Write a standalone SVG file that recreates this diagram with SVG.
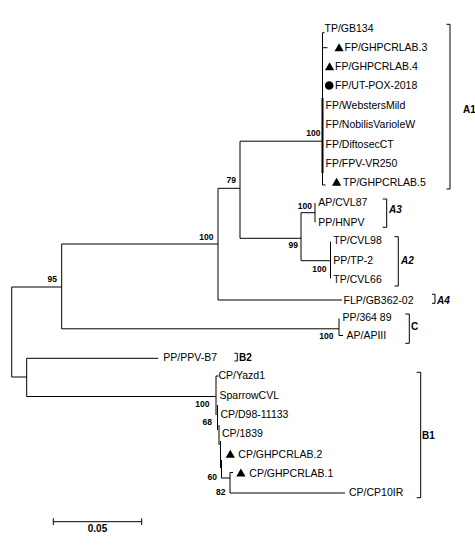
<svg xmlns="http://www.w3.org/2000/svg" width="475" height="546" viewBox="0 0 475 546">
<style>
.t{font-family:"Liberation Sans",Arial,sans-serif;font-size:10.5px;fill:#000}
.b{font-family:"Liberation Sans",Arial,sans-serif;font-size:8.5px;font-weight:bold;fill:#000;text-anchor:end}
.c{font-family:"Liberation Sans",Arial,sans-serif;font-size:10px;font-weight:bold;fill:#000}
.ci{font-style:italic}
.l{stroke:#000;stroke-width:1;fill:none}
.k{stroke:#000;stroke-width:2;fill:none}
.m{fill:#000}
</style>
<defs>
<path id="tri" d="M0,4 L4.6,-4 L9.2,4 Z" class="m"/>
</defs>
<rect width="475" height="546" fill="#fff"/>
<g id="connectors">
<path class="l" d="M324.5,32.7 H322.5 V185 H325.5"/>
<path class="k" d="M322.5,98 V173"/>
<path class="l" d="M322.5,47.7 H327.5"/>
<path class="l" d="M240,141.2 H322.5"/>
<path class="l" d="M218,188.3 H240 V141.2 M240,188.3 V238.3 H301"/>
<path class="l" d="M301,212.7 V260.7"/>
<path class="l" d="M301,212.7 H315 M315,203 V222.3"/>
<path class="l" d="M301,260.7 H330.5 M330.5,241.7 V278.3"/>
<path class="l" d="M218,188.3 V300 H342"/>
<path class="l" d="M61.7,244 H218"/>
<path class="l" d="M61.7,244 V328.8 H339"/>
<path class="l" d="M339,318.5 V335.5 H343"/>
<path class="l" d="M11.7,287 H61.7 M11.7,287 V377 H26.7"/>
<path class="l" d="M26.7,358.3 V396.5 M26.7,358.3 H158.3"/>
<path class="l" d="M26.7,396.5 H216"/>
<path class="l" d="M218.5,376 H216 V415"/>
<path class="l" stroke-width="1.6" d="M217.5,405 V430"/>
<path class="l" d="M219,425 V445"/>
<path class="l" d="M220.5,441 V468"/>
<path class="l" d="M221.5,460 V478 H230"/>
<path class="l" d="M233,472.5 H230 V493 H345"/>
<path class="l" d="M446.5,24.3 H450 V189 H446.5"/>
<path class="l" d="M382.7,199 H386.7 V227.3 H382.7"/>
<path class="l" d="M394.5,236.7 H398.3 V286 H394.5"/>
<path class="l" d="M432,294.3 H435 V303.3 H432"/>
<path class="l" d="M405.3,314 H409.3 V343.3 H405.3"/>
<path class="l" d="M234.5,353.3 H237.3 V361 H234.5"/>
<path class="l" d="M416.7,372.3 H420.7 V497.7 H416.7"/>
<path class="l" d="M53.3,521.7 H141.7 M53.3,518.3 V525 M141.7,518.3 V525"/>
</g>
<g id="A1-tips">
<text class="t" x="324.5" y="32.2">TP/GB134</text>
<use href="#tri" x="334.5" y="47.2"/>
<text class="t" x="344.5" y="51.4">FP/GHPCRLAB.3</text>
<use href="#tri" x="325" y="66.2"/>
<text class="t" x="335" y="70.4">FP/GHPCRLAB.4</text>
<circle class="m" cx="329.2" cy="85.5" r="4.3"/>
<text class="t" x="335" y="89.4">FP/UT-POX-2018</text>
<text class="t" x="325.5" y="109.2">FP/WebstersMild</text>
<text class="t" x="325.5" y="128.4">FP/NobilisVarioleW</text>
<text class="t" x="325.5" y="147.7">FP/DiftosecCT</text>
<text class="t" x="325.5" y="167">FP/FPV-VR250</text>
<use href="#tri" x="332" y="181.8"/>
<text class="t" x="343" y="186">TP/GHPCRLAB.5</text>
</g>
<g id="A3-tips">
<text class="t" x="318.3" y="206.4">AP/CVL87</text>
<text class="t" x="318.3" y="226">PP/HNPV</text>
</g>
<g id="A2-tips">
<text class="t" x="333.3" y="244.4">TP/CVL98</text>
<text class="t" x="333.3" y="263.9">PP/TP-2</text>
<text class="t" x="333.3" y="283">TP/CVL66</text>
</g>
<g id="A4-tip">
<text class="t" x="343.5" y="303.7">FLP/GB362-02</text>
</g>
<g id="C-tips">
<text class="t" x="342.5" y="321">PP/364 89</text>
<text class="t" x="346.5" y="339.2">AP/APIII</text>
</g>
<g id="B2-tip">
<text class="t" x="163.3" y="361.3">PP/PPV-B7</text>
</g>
<g id="B1-tips">
<text class="t" x="218.5" y="379.4">CP/Yazd1</text>
<text class="t" x="219.5" y="399.4">SparrowCVL</text>
<text class="t" x="220.5" y="417.7">CP/D98-11133</text>
<text class="t" x="222" y="437">CP/1839</text>
<use href="#tri" x="225.7" y="453.8"/>
<text class="t" x="238.3" y="458">CP/GHPCRLAB.2</text>
<use href="#tri" x="236.3" y="472.4"/>
<text class="t" x="249.3" y="476.6">CP/GHPCRLAB.1</text>
<text class="t" x="349" y="495.9">CP/CP10IR</text>
</g>
<g id="bootstrap">
<text class="b" x="320.5" y="136.2">100</text>
<text class="b" x="236" y="183">79</text>
<text class="b" x="312" y="209">100</text>
<text class="b" x="298" y="248">99</text>
<text class="b" x="326.5" y="271.5">100</text>
<text class="b" x="213.5" y="239.5">100</text>
<text class="b" x="57" y="282">95</text>
<text class="b" x="333.5" y="339">100</text>
<text class="b" x="209.5" y="407">100</text>
<text class="b" x="212" y="425.3">68</text>
<text class="b" x="217" y="479.5">60</text>
<text class="b" x="225.5" y="495">82</text>
</g>
<g id="clades">
<text class="c" x="463" y="112.5">A1</text>
<text class="c ci" x="389" y="212.5">A3</text>
<text class="c ci" x="401" y="263.5">A2</text>
<text class="c ci" x="437" y="303.5">A4</text>
<text class="c" x="411" y="330">C</text>
<text class="c" x="239" y="360.5">B2</text>
<text class="c" x="422" y="438.5">B1</text>
</g>
<g id="scale">
<text class="c" x="97.5" y="532" text-anchor="middle" font-size="9">0.05</text>
</g>
</svg>
